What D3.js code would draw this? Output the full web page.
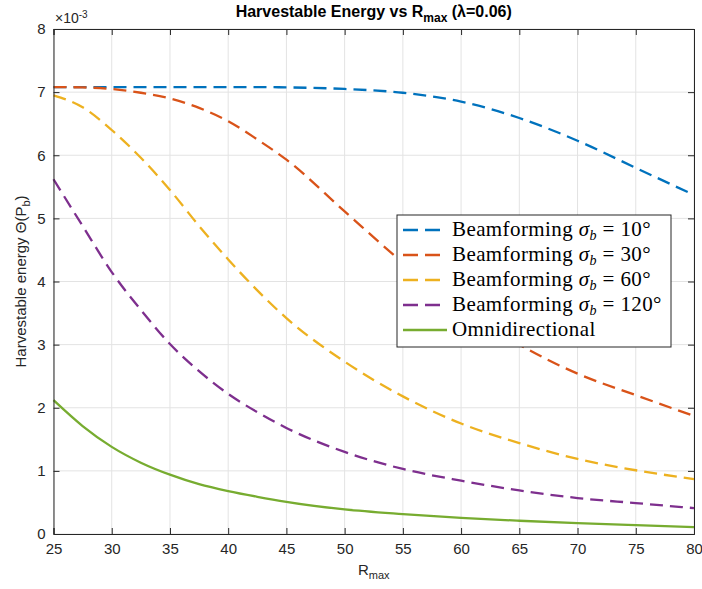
<!DOCTYPE html>
<html><head><meta charset="utf-8">
<script src="https://cdn.jsdelivr.net/npm/d3@7"></script>
<style>body{margin:0;background:#fff}svg{display:block}</style>
</head><body>
<svg id="chart" width="702" height="589"></svg>
<script>
const R = [25, 27.5, 30, 32.5, 35, 37.5, 40, 42.5, 45, 50, 55, 60, 65, 70, 75, 80];
const bf10  = [7.08, 7.08, 7.08, 7.08, 7.08, 7.08, 7.08, 7.08, 7.075, 7.05, 6.99, 6.85, 6.59, 6.23, 5.80, 5.37];
const bf30  = [7.08, 7.075, 7.05, 6.99, 6.90, 6.75, 6.54, 6.25, 5.93, 5.11, 4.30, 3.58, 3.00, 2.54, 2.20, 1.87];
const bf60  = [6.95, 6.76, 6.40, 5.96, 5.45, 4.88, 4.35, 3.86, 3.42, 2.73, 2.18, 1.75, 1.44, 1.19, 1.01, 0.87];
const bf120 = [5.62, 4.88, 4.15, 3.55, 3.01, 2.58, 2.22, 1.93, 1.68, 1.30, 1.03, 0.845, 0.69, 0.57, 0.49, 0.41];
const omni  = [2.12, 1.71, 1.38, 1.13, 0.94, 0.79, 0.68, 0.59, 0.51, 0.39, 0.315, 0.255, 0.21, 0.172, 0.14, 0.11];
const xTicks = [25, 30, 35, 40, 45, 50, 55, 60, 65, 70, 75, 80];
const yTicks = [0, 1, 2, 3, 4, 5, 6, 7, 8];
const seriesNames = ["10", "30", "60", "120", "omni"];
const seriesColors = ["#0072BD", "#D95319", "#EDB120", "#7E2F8E", "#77AC30"];
const seriesData = [bf10, bf30, bf60, bf120, omni];

const svg = d3.select("#chart");
const L = 53.5, Rr = 694, T = 29, B = 534;
const x = d3.scaleLinear().domain([25, 80]).range([L, Rr]);
const y = d3.scaleLinear().domain([0, 8]).range([B, T]);
const font = "'Liberation Sans', Arial, Helvetica, sans-serif";
const axisCol = "#262626";

// grid
const g = svg.append("g");
g.selectAll(".gx").data(xTicks).enter().append("line")
  .attr("x1", d => x(d)).attr("x2", d => x(d)).attr("y1", T).attr("y2", B)
  .attr("stroke", "#e3e3e3").attr("stroke-width", 1);
g.selectAll(".gy").data(yTicks).enter().append("line")
  .attr("y1", d => y(d)).attr("y2", d => y(d)).attr("x1", L).attr("x2", Rr)
  .attr("stroke", "#e3e3e3").attr("stroke-width", 1);

// lines
const line = d3.line().x((d, i) => x(R[i])).y(d => y(d)).curve(d3.curveMonotoneX);
seriesData.forEach((s, k) => {
  svg.append("path").datum(s).attr("d", line).attr("fill", "none")
    .attr("stroke", seriesColors[k]).attr("stroke-width", 2.3)
    .attr("stroke-dasharray", k < 4 ? "13,7" : null);
});

// axes
const xAxisB = d3.axisBottom(x).tickValues(xTicks).tickSize(-6).tickPadding(9);
const xAxisT = d3.axisTop(x).tickValues(xTicks).tickSize(-6).tickFormat("");
const yAxisL = d3.axisLeft(y).tickValues(yTicks).tickSize(-6).tickPadding(8);
const yAxisR = d3.axisRight(y).tickValues(yTicks).tickSize(-6).tickFormat("");
function styleAxis(sel) {
  sel.select(".domain").attr("stroke", axisCol).attr("stroke-width", 1);
  sel.selectAll(".tick line").attr("stroke", axisCol);
  sel.selectAll("text").attr("fill", axisCol).style("font-family", font).style("font-size", "15px");
}
svg.append("g").attr("transform", `translate(0,${B})`).call(xAxisB).call(styleAxis);
svg.append("g").attr("transform", `translate(0,${T})`).call(xAxisT).call(styleAxis);
svg.append("g").attr("transform", `translate(${L},0)`).call(yAxisL).call(styleAxis);
svg.append("g").attr("transform", `translate(${Rr},0)`).call(yAxisR).call(styleAxis);

// exponent
const ex = svg.append("text").attr("x", 55).attr("y", 23).attr("fill", axisCol)
  .style("font-family", font).style("font-size", "14px");
ex.append("tspan").text("×10");
ex.append("tspan").attr("dy", -5).style("font-size", "10px").text("-3");

// title
const tt = svg.append("text").attr("x", (L + Rr) / 2).attr("y", 17).attr("text-anchor", "middle")
  .attr("fill", "#000").style("font-family", font).style("font-size", "16px").style("font-weight", "bold");
tt.append("tspan").text("Harvestable Energy vs R");
tt.append("tspan").attr("dy", 5).style("font-size", "12px").text("max");
tt.append("tspan").attr("dy", -5).text(" (λ=0.06)");

// x label
const xl = svg.append("text").attr("x", (L + Rr) / 2).attr("y", 575).attr("text-anchor", "middle")
  .attr("fill", axisCol).style("font-family", font).style("font-size", "15px");
xl.append("tspan").text("R");
xl.append("tspan").attr("dy", 4).style("font-size", "11px").text("max");

// y label
const yl = svg.append("text").attr("transform", `translate(26,${(T + B) / 2}) rotate(-90)`)
  .attr("text-anchor", "middle").attr("fill", axisCol)
  .style("font-family", font).style("font-size", "15px");
yl.append("tspan").text("Harvestable energy Θ(P");
yl.append("tspan").attr("dy", 4).style("font-size", "11px").text("b");
yl.append("tspan").attr("dy", -4).text(")");

// legend
const lg = svg.append("g");
lg.append("rect").attr("x", 397).attr("y", 215).attr("width", 274).attr("height", 132)
  .attr("fill", "#fff").attr("stroke", axisCol).attr("stroke-width", 1);
const serif = "'Liberation Serif', 'DejaVu Serif', serif";
seriesNames.forEach((n, k) => {
  const cy = 230 + k * 25;
  lg.append("line").attr("x1", 403).attr("x2", k < 4 ? 442 : 447).attr("y1", cy).attr("y2", cy)
    .attr("stroke", seriesColors[k]).attr("stroke-width", 2.3)
    .attr("stroke-dasharray", k < 4 ? "15,7" : null);
  const t = lg.append("text").attr("x", 452).attr("y", cy + 6).attr("fill", "#000")
    .style("font-family", serif).style("font-size", "21px").style("letter-spacing", "0.4px");
  if (k < 4) {
    t.append("tspan").text("Beamforming ");
    t.append("tspan").style("font-style", "italic").text("σ");
    t.append("tspan").attr("dy", 4).style("font-style", "italic").style("font-size", "14px").text("b");
    t.append("tspan").attr("dy", -4).text(" = " + n + "°");
  } else {
    t.text("Omnidirectional");
  }
});
</script>
</body></html>
